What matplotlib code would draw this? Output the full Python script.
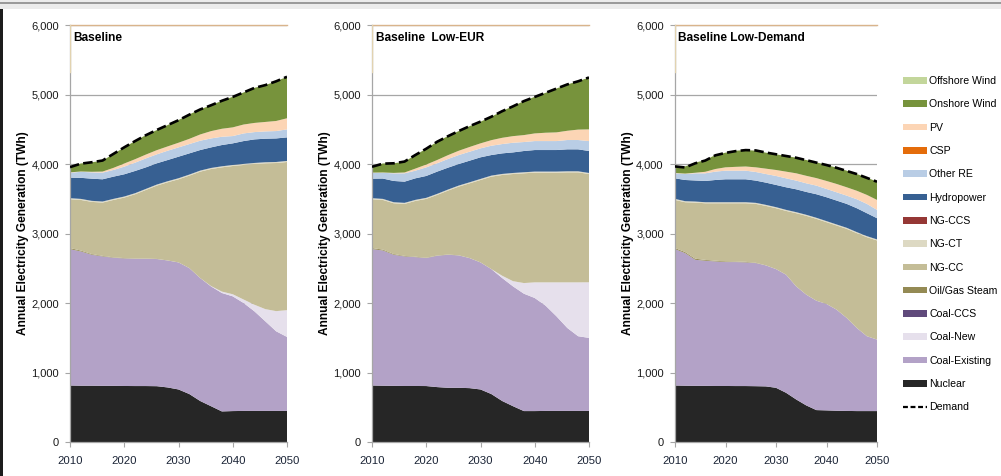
import matplotlib
matplotlib.use("Agg")
import matplotlib.pyplot as plt
from matplotlib.patches import Patch, Rectangle
from matplotlib.lines import Line2D
from matplotlib.ticker import FuncFormatter, MultipleLocator

plt.rcParams["font.family"] = ["Liberation Sans", "DejaVu Sans"]

years = [2010, 2012, 2014, 2016, 2018, 2020, 2022, 2024, 2026, 2028, 2030,
         2032, 2034, 2036, 2038, 2040, 2042, 2044, 2046, 2048, 2050]

# Annual generation by technology (TWh)
# --- Baseline ---
b_nuclear = [813, 810, 810, 808, 808, 806, 805, 805, 803, 785, 756, 690, 590, 515, 440, 445, 447, 447, 447, 447, 447]
b_coal_existing = [1962, 1932, 1884, 1862, 1843, 1835, 1831, 1831, 1829, 1827, 1828, 1812, 1769, 1724, 1704, 1651, 1553, 1433, 1290, 1146, 1065]
b_coal_new = [0, 0, 0, 0, 0, 0, 0, 0, 0, 0, 0, 0, 0, 5, 20, 30, 50, 95, 175, 290, 385]
b_coal_ccs = [0, 0, 0, 0, 0, 0, 0, 0, 0, 0, 0, 0, 0, 0, 0, 0, 0, 0, 0, 0, 0]
b_oil_gas_steam = [15, 12, 10, 8, 6, 5, 4, 3, 2, 0, 0, 0, 0, 0, 0, 0, 0, 0, 0, 0, 0]
b_ng_cc = [703, 729, 751, 767, 826, 871, 925, 988, 1055, 1125, 1196, 1331, 1531, 1684, 1788, 1845, 1936, 2025, 2098, 2131, 2132]
b_ng_ct = [15, 15, 15, 15, 15, 15, 15, 15, 15, 15, 15, 15, 15, 15, 15, 15, 15, 15, 15, 15, 15]
b_ng_ccs = [0, 0, 0, 0, 0, 0, 0, 0, 0, 0, 0, 0, 0, 0, 0, 0, 0, 0, 0, 0, 0]
b_hydro = [296, 303, 319, 320, 320, 320, 320, 310, 306, 305, 310, 305, 296, 296, 306, 311, 329, 339, 339, 339, 339]
b_other_re = [71, 86, 91, 96, 96, 110, 119, 129, 129, 134, 134, 134, 134, 129, 119, 105, 110, 105, 105, 106, 115]
b_csp = [0, 0, 0, 0, 0, 0, 0, 0, 0, 0, 0, 0, 0, 0, 0, 0, 0, 0, 0, 0, 0]
b_pv = [5, 5, 8, 15, 30, 45, 50, 55, 60, 62, 67, 75, 90, 105, 115, 125, 128, 132, 136, 145, 160]
b_onshore = [77, 115, 136, 157, 200, 232, 261, 280, 289, 307, 326, 351, 360, 374, 402, 440, 461, 505, 529, 572, 596]
b_offshore = [0, 0, 0, 0, 0, 0, 0, 0, 0, 0, 0, 0, 0, 0, 0, 0, 0, 0, 0, 0, 0]
b_demand = [3955, 4005, 4025, 4050, 4145, 4240, 4330, 4415, 4490, 4560, 4630, 4710, 4785, 4845, 4910, 4965, 5030, 5095, 5135, 5190, 5255]

# --- Baseline Low-EUR ---
e_nuclear = [813, 810, 808, 806, 806, 805, 790, 780, 780, 775, 756, 690, 590, 515, 445, 445, 447, 447, 447, 447, 447]
e_coal_existing = [1962, 1946, 1886, 1864, 1854, 1841, 1889, 1914, 1904, 1871, 1828, 1798, 1769, 1724, 1689, 1627, 1515, 1362, 1194, 1075, 1051]
e_coal_new = [0, 0, 0, 0, 0, 0, 0, 0, 0, 0, 0, 0, 33, 75, 153, 225, 335, 488, 656, 775, 800]
e_coal_ccs = [0, 0, 0, 0, 0, 0, 0, 0, 0, 0, 0, 0, 0, 0, 0, 0, 0, 0, 0, 0, 0]
e_oil_gas_steam = [15, 12, 10, 8, 6, 5, 4, 3, 2, 0, 0, 0, 0, 0, 0, 0, 0, 0, 0, 0, 0]
e_ng_cc = [703, 715, 731, 748, 803, 847, 872, 920, 989, 1076, 1186, 1330, 1450, 1542, 1579, 1579, 1579, 1579, 1583, 1583, 1558]
e_ng_ct = [15, 15, 15, 15, 15, 15, 15, 15, 15, 15, 15, 15, 15, 15, 15, 15, 15, 15, 15, 15, 15]
e_ng_ccs = [0, 0, 0, 0, 0, 0, 0, 0, 0, 0, 0, 0, 0, 0, 0, 0, 0, 0, 0, 0, 0]
e_hydro = [281, 293, 306, 305, 310, 315, 320, 315, 310, 311, 311, 296, 296, 296, 306, 310, 310, 310, 316, 316, 316]
e_other_re = [82, 82, 110, 120, 110, 124, 120, 125, 129, 129, 129, 134, 134, 139, 129, 129, 129, 129, 134, 134, 143]
e_csp = [0, 0, 0, 0, 0, 0, 0, 0, 0, 0, 0, 0, 0, 0, 0, 0, 0, 0, 0, 0, 0]
e_pv = [5, 5, 6, 12, 30, 40, 47, 55, 62, 68, 72, 80, 90, 95, 100, 110, 120, 125, 133, 150, 168]
e_onshore = [90, 129, 138, 155, 195, 228, 263, 275, 283, 300, 311, 337, 384, 432, 488, 527, 574, 631, 666, 696, 746]
e_offshore = [0, 0, 0, 0, 0, 0, 0, 0, 0, 0, 0, 0, 0, 0, 0, 0, 0, 0, 0, 0, 0]
e_demand = [3960, 4005, 4010, 4035, 4130, 4220, 4320, 4400, 4475, 4545, 4610, 4680, 4760, 4830, 4905, 4965, 5025, 5085, 5145, 5190, 5245]

# --- Baseline Low-Demand ---
d_nuclear = [813, 810, 808, 808, 806, 806, 805, 805, 803, 800, 780, 708, 612, 526, 459, 455, 450, 447, 445, 445, 445]
d_coal_existing = [1962, 1908, 1814, 1800, 1792, 1783, 1784, 1779, 1771, 1741, 1708, 1699, 1627, 1594, 1574, 1531, 1454, 1338, 1196, 1077, 1029]
d_coal_new = [0, 0, 0, 0, 0, 0, 0, 0, 0, 0, 0, 0, 0, 0, 0, 0, 0, 0, 0, 0, 0]
d_coal_ccs = [0, 0, 0, 0, 0, 0, 0, 0, 0, 0, 0, 0, 0, 0, 0, 0, 0, 0, 0, 0, 0]
d_oil_gas_steam = [15, 15, 15, 12, 10, 10, 8, 8, 5, 0, 0, 0, 0, 0, 0, 0, 0, 0, 0, 0, 0]
d_ng_cc = [693, 717, 808, 815, 827, 836, 838, 843, 847, 856, 876, 918, 1053, 1134, 1178, 1177, 1211, 1282, 1364, 1425, 1426]
d_ng_ct = [15, 15, 15, 15, 15, 15, 15, 15, 15, 15, 15, 15, 15, 15, 15, 15, 15, 15, 15, 15, 15]
d_ng_ccs = [0, 0, 0, 0, 0, 0, 0, 0, 0, 0, 0, 0, 0, 0, 0, 0, 0, 0, 0, 0, 0]
d_hydro = [296, 305, 303, 306, 320, 330, 330, 330, 320, 320, 320, 325, 329, 329, 339, 344, 344, 344, 344, 330, 305]
d_other_re = [72, 86, 103, 110, 120, 124, 124, 124, 124, 124, 129, 129, 125, 124, 124, 119, 119, 119, 129, 134, 120]
d_csp = [0, 0, 0, 0, 0, 0, 0, 0, 0, 0, 0, 0, 0, 0, 0, 0, 0, 0, 0, 0, 0]
d_pv = [5, 6, 8, 22, 38, 48, 55, 60, 67, 77, 86, 96, 105, 108, 108, 115, 120, 120, 122, 129, 143]
d_onshore = [105, 103, 145, 169, 201, 211, 232, 237, 239, 230, 225, 225, 225, 227, 227, 230, 234, 239, 241, 249, 263]
d_offshore = [0, 0, 0, 0, 0, 0, 0, 0, 0, 0, 0, 0, 0, 0, 0, 0, 0, 0, 0, 0, 0]
d_demand = [3965, 3950, 4010, 4050, 4125, 4160, 4185, 4200, 4195, 4165, 4140, 4115, 4090, 4055, 4020, 3985, 3945, 3900, 3855, 3800, 3745]

# Stack order, bottom to top
tech_labels = ["Nuclear", "Coal-Existing", "Coal-New", "Coal-CCS", "Oil/Gas Steam",
               "NG-CC", "NG-CT", "NG-CCS", "Hydropower", "Other RE", "CSP", "PV",
               "Onshore Wind", "Offshore Wind"]
tech_colors = ["#262626", "#b3a2c7", "#e6e0ec", "#604a7b", "#948a54",
               "#c4bd97", "#ddd9c3", "#953735", "#376092", "#b9cde5", "#e46c0a",
               "#fcd5b5", "#77933c", "#c3d69b"]

scenarios = [
    ("Baseline", [b_nuclear, b_coal_existing, b_coal_new, b_coal_ccs, b_oil_gas_steam,
                  b_ng_cc, b_ng_ct, b_ng_ccs, b_hydro, b_other_re, b_csp, b_pv,
                  b_onshore, b_offshore], b_demand),
    ("Baseline  Low-EUR", [e_nuclear, e_coal_existing, e_coal_new, e_coal_ccs, e_oil_gas_steam,
                           e_ng_cc, e_ng_ct, e_ng_ccs, e_hydro, e_other_re, e_csp, e_pv,
                           e_onshore, e_offshore], e_demand),
    ("Baseline Low-Demand", [d_nuclear, d_coal_existing, d_coal_new, d_coal_ccs, d_oil_gas_steam,
                             d_ng_cc, d_ng_ct, d_ng_ccs, d_hydro, d_other_re, d_csp, d_pv,
                             d_onshore, d_offshore], d_demand),
]

W, H = 1001, 476
fig = plt.figure(figsize=(W / 100, H / 100), dpi=100)
fig.patch.set_facecolor("white")

# window frame strips
fig.patches.append(Rectangle((0, 1 - 9 / H), 1, 9 / H, transform=fig.transFigure,
                             facecolor="#ebebeb", edgecolor="none", zorder=0))
fig.patches.append(Rectangle((0, 1 - 4 / H), 1, 1.6 / H, transform=fig.transFigure,
                             facecolor="#9a9a9a", edgecolor="none", zorder=1))
fig.patches.append(Rectangle((0, 0), 2.5 / W, 1 - 9 / H, transform=fig.transFigure,
                             facecolor="#1c1c1c", edgecolor="none", zorder=1))

# axes boxes in pixels: (left, right)
panel_x = [(70, 287), (372, 589), (675, 877)]
top_px, bottom_px = 25, 442

grid_grey = "#a6a6a6"
tan = "#d9b48c"
thousands = FuncFormatter(lambda v, p: f"{int(v):,}")

for (title, series, demand), (x0, x1) in zip(scenarios, panel_x):
    ax = fig.add_axes([x0 / W, 1 - bottom_px / H, (x1 - x0) / W, (bottom_px - top_px) / H])
    ax.stackplot(years, *series, colors=tech_colors, linewidth=0, zorder=2)
    ax.plot(years, demand, color="black", linestyle=(0, (3.6, 1.6)), linewidth=1.9,
            zorder=4)

    ax.set_xlim(2010, 2050)
    ax.set_ylim(0, 6000)
    ax.yaxis.set_major_locator(MultipleLocator(1000))
    ax.xaxis.set_major_locator(MultipleLocator(10))
    ax.yaxis.set_major_formatter(thousands)
    ax.grid(axis="y", color=grid_grey, linewidth=0.9, zorder=0)
    ax.set_axisbelow(True)

    ax.spines["right"].set_visible(False)
    ax.spines["top"].set_color(tan)
    ax.spines["top"].set_linewidth(1.0)
    ax.spines["left"].set_color(grid_grey)
    ax.spines["bottom"].set_color(grid_grey)
    ax.spines["left"].set_linewidth(0.9)
    ax.spines["bottom"].set_linewidth(0.9)
    ax.axvline(2010, ymin=5330 / 6000, ymax=1, color="#e2d3b0", linewidth=1.0, zorder=5)

    ax.tick_params(axis="both", direction="out", length=3.6, width=0.8, color=grid_grey)
    ax.tick_params(axis="y", labelsize=8, labelcolor="#1a1a1a", pad=4.5)
    ax.tick_params(axis="x", labelsize=8.2, labelcolor="#1b2436", pad=6.5)

    ax.set_ylabel("Annual Electricity Generation (TWh)", fontsize=8.6,
                  fontweight="bold", color="black")
    ax.yaxis.set_label_coords(-41 / (x1 - x0), 0.5)

    ax.text(3.5 / (x1 - x0), 0.969, title, transform=ax.transAxes, fontsize=8.6,
            fontweight="bold", ha="left", va="center", color="black", zorder=6)

# legend (top to bottom)
handles = []
for lab, col in zip(tech_labels[::-1], tech_colors[::-1]):
    handles.append(Patch(facecolor=col, edgecolor="none", label=lab))
handles.append(Line2D([0], [0], color="black", linestyle=(0, (2.2, 1.2)), linewidth=1.6,
                      label="Demand"))

fig.legend(handles=handles, loc="upper left", bbox_to_anchor=(900 / W, 1 - 73 / H),
           frameon=False, fontsize=7.6, handlelength=2.27, handleheight=0.58,
           handletextpad=0.22, labelspacing=1.26, borderaxespad=0, borderpad=0.3)

fig.savefig("out.png", dpi=100)
